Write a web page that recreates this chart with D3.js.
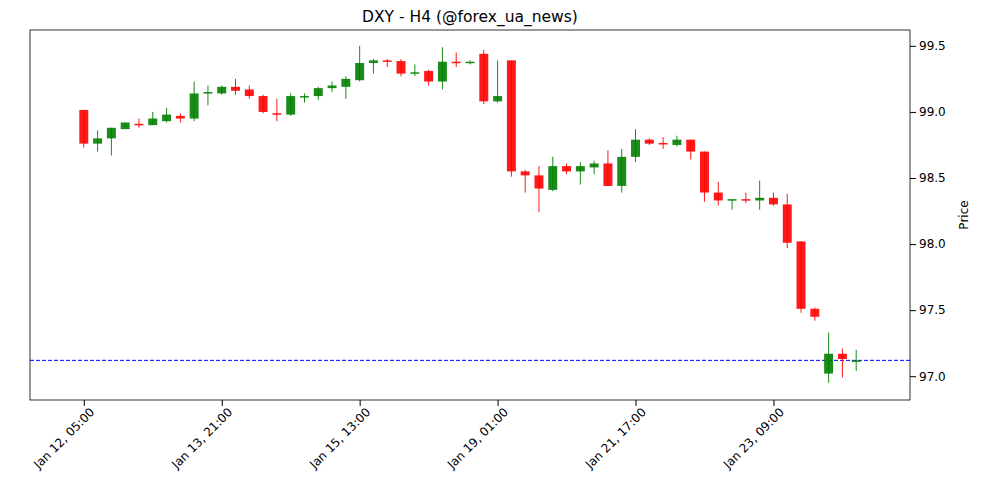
<!DOCTYPE html>
<html>
<head>
<meta charset="utf-8">
<script src="https://cdn.jsdelivr.net/npm/d3@7"></script>
<style>
body { margin: 0; background: #fff; }
text { font-family: "DejaVu Sans", sans-serif; }
</style>
</head>
<body>
<script>
var svgWidth = 1000
var svgHeight = 500

var margin = {top: 30, right: 90, bottom: 100, left: 30};
var chartWidth = svgWidth - margin.left - margin.right;
var chartHeight = svgHeight - margin.top - margin.bottom;

// OHLC, one H4 candle each
var opens  = [99.015,98.76,98.80,98.87,98.91,98.90,98.93,98.97,98.95,99.14,99.14,99.19,99.17,99.12,98.99,98.98,99.11,99.12,99.18,99.19,99.24,99.37,99.39,99.385,99.29,99.31,99.23,99.38,99.37,99.44,99.08,99.39,98.55,98.52,98.41,98.59,98.55,98.58,98.61,98.44,98.66,98.79,98.765,98.75,98.79,98.70,98.39,98.33,98.34,98.33,98.35,98.30,98.02,97.51,97.02,97.17,97.11];
var closes = [98.76,98.80,98.88,98.92,98.90,98.95,98.98,98.95,99.14,99.15,99.19,99.16,99.12,99.00,98.98,99.12,99.12,99.18,99.20,99.25,99.37,99.39,99.385,99.29,99.30,99.23,99.38,99.37,99.38,99.08,99.12,98.55,98.52,98.42,98.59,98.55,98.59,98.61,98.44,98.66,98.79,98.76,98.755,98.79,98.70,98.39,98.33,98.34,98.33,98.35,98.30,98.01,97.51,97.45,97.17,97.13,97.12];
var highs  = [99.015,98.86,98.88,98.92,98.95,99.00,99.03,98.99,99.23,99.20,99.20,99.25,99.20,99.13,99.10,99.14,99.14,99.19,99.23,99.27,99.50,99.40,99.40,99.40,99.36,99.32,99.49,99.45,99.39,99.47,99.39,99.39,98.56,98.59,98.66,98.61,98.62,98.63,98.71,98.72,98.87,98.80,98.81,98.82,98.79,98.70,98.47,98.34,98.39,98.48,98.39,98.38,98.02,97.52,97.33,97.21,97.20];
var lows   = [98.73,98.70,98.67,98.89,98.88,98.90,98.92,98.92,98.93,99.05,99.13,99.13,99.10,98.99,98.93,98.97,99.07,99.09,99.15,99.10,99.23,99.29,99.34,99.27,99.27,99.20,99.17,99.34,99.36,99.06,99.07,98.51,98.39,98.24,98.40,98.53,98.45,98.53,98.44,98.39,98.62,98.75,98.72,98.74,98.64,98.32,98.29,98.26,98.31,98.26,98.29,97.97,97.48,97.42,96.95,96.99,97.04];
var tickIdx = [0, 10, 20, 30, 40, 50];
var tickLabels = ["Jan 12, 05:00", "Jan 13, 21:00", "Jan 15, 13:00", "Jan 19, 01:00", "Jan 21, 17:00", "Jan 23, 09:00"];
var lastPrice = 97.12;
var yTicks = [97.0, 97.5, 98.0, 98.5, 99.0, 99.5];

var candles = opens.map(function(o, i) {
  return {i: i, open: o, close: closes[i], high: highs[i], low: lows[i]};
});

var svg = d3.select("body").append("svg")
  .attr("width", svgWidth)
  .attr("height", svgHeight);

var chartGroup = svg.append("g")
  .attr("transform", `translate(${margin.left}, ${margin.top})`);

var xScale = d3.scaleLinear()
  .domain([-3.9, candles.length - 1 + 3.9])
  .range([0, chartWidth]);

var yScale = d3.scaleLinear()
  .domain([96.82, 99.62])
  .range([chartHeight, 0]);

var bodyW = (xScale(1) - xScale(0)) * 0.65;

var rightAxis = d3.axisRight(yScale).tickValues(yTicks).tickFormat(d3.format(".1f")).tickSizeOuter(0);
var bottomAxis = d3.axisBottom(xScale).tickValues(tickIdx)
  .tickFormat(function(d) { return tickLabels[tickIdx.indexOf(d)]; }).tickSizeOuter(0);

// dashed last-price line
chartGroup.append("line")
  .attr("x1", 0).attr("x2", chartWidth)
  .attr("y1", yScale(lastPrice)).attr("y2", yScale(lastPrice))
  .attr("stroke", "blue").attr("stroke-width", 1)
  .attr("stroke-dasharray", "4,2");

var g = chartGroup.selectAll(".candle")
  .data(candles)
  .enter().append("g")
  .attr("class", "candle");

g.append("line")
  .attr("x1", d => xScale(d.i)).attr("x2", d => xScale(d.i))
  .attr("y1", d => yScale(d.high)).attr("y2", d => yScale(d.low))
  .attr("stroke", d => d.close >= d.open ? "green" : "red")
  .attr("stroke-opacity", 0.9)
  .attr("stroke-width", 1);

g.append("rect")
  .attr("x", d => xScale(d.i) - bodyW / 2)
  .attr("width", bodyW)
  .attr("y", d => yScale(Math.max(d.open, d.close)))
  .attr("height", d => Math.max(1.5, Math.abs(yScale(d.open) - yScale(d.close))))
  .attr("fill", d => d.close >= d.open ? "green" : "red")
  .attr("fill-opacity", 0.9);

chartGroup.append("rect")
  .attr("width", chartWidth).attr("height", chartHeight)
  .attr("fill", "none").attr("stroke", "black").attr("stroke-width", 0.8);

chartGroup.append("g")
  .attr("transform", `translate(${chartWidth}, 0)`)
  .call(rightAxis)
  .call(a => a.select(".domain").remove())
  .selectAll("text").attr("font-size", 12);

var xa = chartGroup.append("g")
  .attr("transform", `translate(0, ${chartHeight})`)
  .call(bottomAxis);
xa.select(".domain").remove();
xa.selectAll("text")
  .attr("font-size", 12)
  .attr("text-anchor", "end")
  .attr("dy", "0.3em")
  .attr("transform", "translate(2,4) rotate(-45)");

svg.append("text")
  .attr("x", margin.left + chartWidth / 2).attr("y", 22)
  .attr("text-anchor", "middle").attr("font-size", 15.5)
  .text("DXY - H4 (@forex_ua_news)");

svg.append("text")
  .attr("transform", `translate(968, ${margin.top + chartHeight / 2}) rotate(-90)`)
  .attr("text-anchor", "middle").attr("font-size", 12)
  .text("Price");
</script>
</body>
</html>
